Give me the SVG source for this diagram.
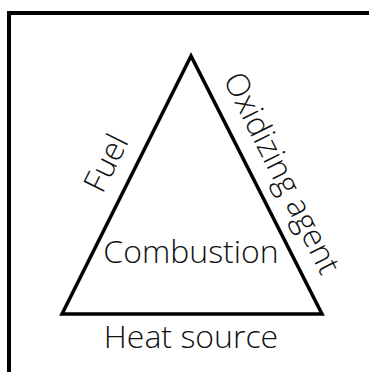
<svg xmlns="http://www.w3.org/2000/svg" width="369" height="372" viewBox="0 0 369 372">
<style>
.lbl{font-family:"Open Sans","Noto Sans",sans-serif;font-weight:300;font-size:32px;fill:#111;}
.edge{fill:none;stroke:#000;stroke-width:3.5;stroke-linejoin:miter;}
</style>
<rect x="0" y="0" width="369" height="372" fill="#fff"/>
<path d="M9 372 V13 H369" fill="none" stroke="#000" stroke-width="4"/>
<g id="triangle">
<polygon class="edge" points="191,56 62,314 322,314"/>
</g>
<g id="connectors"></g>
<g id="combustion"><text class="lbl" x="191" y="263" text-anchor="middle">Combustion</text></g>
<g id="heat"><text class="lbl" x="191" y="348" text-anchor="middle">Heat source</text></g>
<g id="fuel"><text class="lbl" transform="translate(106,163) rotate(-63.4)" x="0" y="11" text-anchor="middle">Fuel</text></g>
<g id="oxidizing"><text class="lbl" transform="translate(282,173) rotate(63.4)" x="0" y="11" text-anchor="middle">Oxidizing agent</text></g>
</svg>
